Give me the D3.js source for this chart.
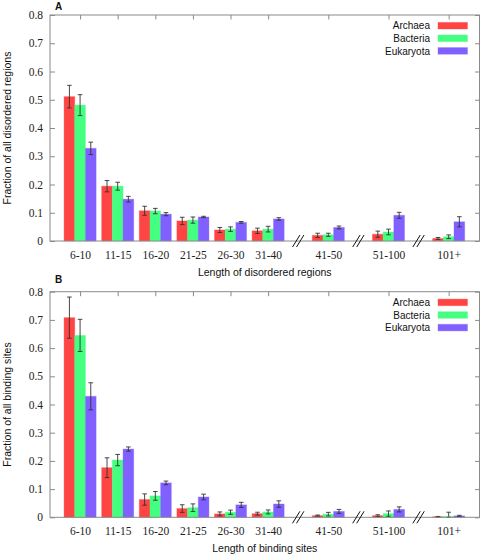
<!DOCTYPE html>
<html>
<head>
<meta charset="utf-8">
<script src="https://cdn.jsdelivr.net/npm/d3@7"></script>
<style>
html,body{margin:0;padding:0;background:#fff;}
svg{display:block;}
</style>
</head>
<body>
<script>
// ---- data ----
const categories = ["6-10","11-15","16-20","21-25","26-30","31-40","41-50","51-100","101+"];
const positions  = [1, 2, 3, 4, 5, 6, 7.6, 9.2, 10.8];
const breakPositions = [6.8, 8.4, 10.0];
const seriesNames = ["Archaea","Bacteria","Eukaryota"];
const seriesColors = ["#ff4444","#44ff80","#8060ff"];
const yTicks = [0,0.1,0.2,0.3,0.4,0.5,0.6,0.7,0.8];
const yTickLabels = ["0","0.1","0.2","0.3","0.4","0.5","0.6","0.7","0.8"];

// Panel A: disordered regions
const archaeaA    = [0.511,0.194,0.107,0.071,0.039,0.036,0.020,0.024,0.009];
const archaeaAErr = [0.040,0.020,0.016,0.013,0.009,0.0095,0.0075,0.011,0.0035];
const bacteriaA    = [0.481,0.194,0.106,0.074,0.042,0.042,0.022,0.032,0.015];
const bacteriaAErr = [0.037,0.014,0.0095,0.011,0.008,0.010,0.0055,0.010,0.0065];
const eukaryotaA    = [0.328,0.148,0.095,0.085,0.066,0.078,0.048,0.091,0.068];
const eukaryotaAErr = [0.022,0.010,0.0055,0.0025,0.003,0.0045,0.005,0.0105,0.018];

// Panel B: binding sites
const archaeaB    = [0.708,0.176,0.063,0.031,0.012,0.013,0.006,0.006,0.002];
const archaeaBErr = [0.073,0.035,0.020,0.0135,0.007,0.005,0.002,0.003,0.001];
const bacteriaB    = [0.645,0.203,0.076,0.034,0.018,0.019,0.011,0.013,0.003];
const bacteriaBErr = [0.057,0.020,0.0155,0.0135,0.0075,0.007,0.0065,0.0095,0.015];
const eukaryotaB    = [0.429,0.242,0.122,0.072,0.044,0.047,0.021,0.028,0.005];
const eukaryotaBErr = [0.048,0.0075,0.0065,0.010,0.009,0.0115,0.007,0.009,0.002];

const W = 481, H = 555;
const svg = d3.select("body").append("svg").attr("width", W).attr("height", H);

const serif = "'Liberation Serif','Times New Roman',serif";
const sans = "'Liberation Sans',Arial,Helvetica,sans-serif";
const borderColor = "#8a8a8a";

function panel(cfg) {
  const left = 50, right = 479.5, top = cfg.top, bottom = cfg.bottom;
  const x = d3.scaleLinear().domain([0.2, 11.62]).range([left, right]);
  const y = d3.scaleLinear().domain([0, 0.8]).range([bottom, top]);
  const unit = x(1) - x(0);
  const bw = unit * 0.284;
  const g = svg.append("g");

  // bars + error bars
  cfg.values.forEach((vals, s) => {
    const gs = g.append("g");
    gs.selectAll("rect").data(vals).join("rect")
      .attr("x", (d, i) => x(positions[i]) + (s - 1) * bw - bw / 2)
      .attr("width", bw)
      .attr("y", d => y(d))
      .attr("height", d => y(0) - y(d))
      .attr("fill", seriesColors[s])
      .attr("stroke", seriesColors[s])
      .attr("stroke-opacity", 0.35)
      .attr("stroke-width", 1);
    const errs = cfg.errs[s];
    const eg = gs.append("g").attr("stroke", "#333").attr("stroke-width", 0.9);
    vals.forEach((d, i) => {
      const cx = x(positions[i]) + (s - 1) * bw;
      const hi = y(d + errs[i]);
      const lo = y(Math.max(0, d - errs[i]));
      eg.append("line").attr("x1", cx).attr("x2", cx).attr("y1", hi).attr("y2", lo);
      eg.append("line").attr("x1", cx - 2.3).attr("x2", cx + 2.3).attr("y1", hi).attr("y2", hi);
      eg.append("line").attr("x1", cx - 2.3).attr("x2", cx + 2.3).attr("y1", lo).attr("y2", lo);
    });
  });

  // border
  g.append("rect").attr("x", left).attr("y", top).attr("width", right - left).attr("height", bottom - top)
    .attr("fill", "none").attr("stroke", borderColor).attr("stroke-width", 1);

  // left axis with inward ticks
  const yAxisL = d3.axisLeft(y).tickValues(yTicks).tickFormat((d, i) => yTickLabels[i]).tickSizeInner(-5).tickSizeOuter(0).tickPadding(7);
  const gl = g.append("g").attr("transform", `translate(${left},0)`).call(yAxisL);
  gl.select(".domain").remove();
  gl.selectAll(".tick line").attr("stroke", borderColor);
  gl.selectAll(".tick text").attr("font-family", serif).attr("font-size", 11.5).attr("fill", "#222");
  // right mirror ticks
  const yAxisR = d3.axisRight(y).tickValues(yTicks).tickFormat("").tickSizeInner(-4.5).tickSizeOuter(0);
  const gr = g.append("g").attr("transform", `translate(${right},0)`).call(yAxisR);
  gr.select(".domain").remove();
  gr.selectAll(".tick line").attr("stroke", borderColor);

  // top mirror ticks at category positions
  const xAxisT = d3.axisTop(x).tickValues(positions).tickFormat("").tickSizeInner(-4.5).tickSizeOuter(0);
  const gt = g.append("g").attr("transform", `translate(0,${top})`).call(xAxisT);
  gt.select(".domain").remove();
  gt.selectAll(".tick line").attr("stroke", borderColor);

  // bottom labels
  const xAxisB = d3.axisBottom(x).tickValues(positions).tickFormat((d, i) => categories[i]).tickSize(0).tickPadding(10);
  const gb = g.append("g").attr("transform", `translate(0,${bottom})`).call(xAxisB);
  gb.select(".domain").remove();
  gb.selectAll(".tick text").attr("font-family", serif).attr("font-size", 11.5).attr("fill", "#222");

  // axis breaks "//"
  breakPositions.forEach(bp => {
    const cx = x(bp), cy = bottom;
    [-2, 2].forEach(off => {
      g.append("line")
        .attr("x1", cx + off - 3.7).attr("y1", cy + 6)
        .attr("x2", cx + off + 3.7).attr("y2", cy - 6)
        .attr("stroke", "#111").attr("stroke-width", 1);
    });
  });

  // axis titles
  g.append("text").attr("x", (left + right) / 2).attr("y", bottom + 34.5)
    .attr("text-anchor", "middle").attr("font-family", sans).attr("font-size", 10.5).attr("fill", "#111")
    .text(cfg.xTitle);
  g.append("text").attr("transform", `translate(11,${(top + bottom) / 2}) rotate(-90)`)
    .attr("text-anchor", "middle").attr("font-family", sans).attr("font-size", 10.5).attr("fill", "#111")
    .text(cfg.yTitle);

  // panel letter
  g.append("text").attr("x", 55).attr("y", cfg.letterY)
    .attr("font-family", sans).attr("font-weight", "bold").attr("font-size", 10).attr("fill", "#111")
    .text(cfg.letter);

  // legend
  seriesNames.forEach((name, s) => {
    const ly = top + 10.7 + s * 12.6;
    g.append("text").attr("x", 430).attr("y", ly + 3.6).attr("text-anchor", "end")
      .attr("font-family", sans).attr("font-size", 10).attr("fill", "#111").text(name);
    g.append("rect").attr("x", 438).attr("y", ly - 3.3).attr("width", 29.5).attr("height", 6.6)
      .attr("fill", seriesColors[s]).attr("stroke", seriesColors[s]).attr("stroke-opacity", 0.35);
  });
}

panel({
  top: 15, bottom: 241, letter: "A", letterY: 10,
  values: [archaeaA, bacteriaA, eukaryotaA],
  errs: [archaeaAErr, bacteriaAErr, eukaryotaAErr],
  xTitle: "Length of disordered regions",
  yTitle: "Fraction of all disordered regions"
});
panel({
  top: 291.7, bottom: 517.3, letter: "B", letterY: 283,
  values: [archaeaB, bacteriaB, eukaryotaB],
  errs: [archaeaBErr, bacteriaBErr, eukaryotaBErr],
  xTitle: "Length of binding sites",
  yTitle: "Fraction of all binding sites"
});
</script>
</body>
</html>
